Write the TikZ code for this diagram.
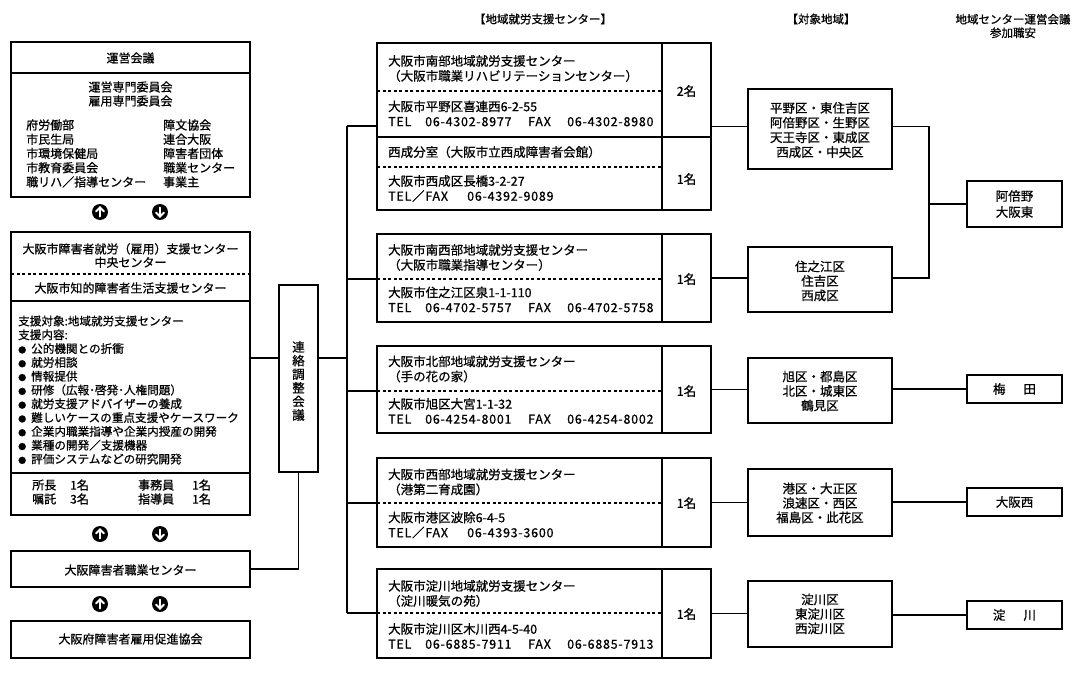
\documentclass[tikz,border=0pt]{standalone}
\usepackage{fontspec}
\setmainfont{Noto Sans CJK JP}[FakeBold=0.7]
\newfontfamily\numf{Noto Sans CJK JP}[FakeBold=0.7, LetterSpace=6]
\usetikzlibrary{arrows.meta}
\newcommand\fs[2]{\fontsize{#1}{#2}\selectfont}
\newcommand\mkbox[5]{\node[bx, anchor=north west, minimum width={(#4)-(#2)}, minimum height={(#5)-(#3)}] (#1) at (#2,#3) {};}
\newcommand\telfax[2]{\makebox[37pt][l]{\numf TEL}\makebox[103pt][l]{\numf #1}\makebox[39pt][l]{\numf FAX}{\numf #2}}
\newcommand\tfx[1]{\makebox[79pt][l]{\numf TEL／FAX}{\numf #1}}
\newcommand\bl{\makebox[13pt][l]{\fs{8}{8}●}}
\newcommand\upc[2]{\node[circ] (#1) at (#2) {};
  \draw[warr] ([yshift=-4.5pt]#1.center) -- ([yshift=4.5pt]#1.center);
  \draw[warr] ([shift={(-4pt,0.5pt)}]#1.center) -- ([yshift=4.5pt]#1.center) -- ([shift={(4pt,0.5pt)}]#1.center);}
\newcommand\dnc[2]{\node[circ] (#1) at (#2) {};
  \draw[warr] ([yshift=4.5pt]#1.center) -- ([yshift=-4.5pt]#1.center);
  \draw[warr] ([shift={(-4pt,-0.5pt)}]#1.center) -- ([yshift=-4.5pt]#1.center) -- ([shift={(4pt,-0.5pt)}]#1.center);}
\begin{document}
\begin{tikzpicture}[x=1pt,y=-1pt,
  bx/.style={draw, line width=1.3pt, rectangle, inner sep=0pt, outer sep=0pt},
  ln/.style={line width=1.2pt},
  dv/.style={line width=1.1pt},
  dsh/.style={line width=1.1pt, dash pattern=on 3pt off 2.5pt},
  t/.style={inner sep=0pt, font=\fs{12.5}{15}, align=left},
  tl/.style={t, font=\fs{12}{14}},
  circ/.style={circle, fill=black, inner sep=0pt, minimum size=16pt},
  warr/.style={white, line width=2pt, line cap=round, line join=miter}]
\useasboundingbox (0,0) rectangle (1076,682);

% ---------- headers ----------
\node[t, font=\fs{11.5}{13}] (h1) at (543,19) {【地域就労支援センター】};
\node[t, font=\fs{11.5}{13}] (h2) at (821,19) {【対象地域】};
\node[t, font=\fs{11.5}{13.5}, align=center] (h3) at (1013,26) {地域センター運営会議\\参加職安};

% ---------- left column ----------
\mkbox{unei}{11}{42}{250}{197}
\draw[dv] (unei.west |- 0,73) -- (unei.east |- 0,73);
\node[tl] (uneit) at (130.5,58) {運営会議};
\node[tl, align=center] (senmon) at (130.5,94) {運営専門委員会\\雇用専門委員会};
\node[tl, font=\fs{12}{14.25}, anchor=west] (orgL) at (26,153.5) {府労働部\\市民生局\\市環境保健局\\市教育委員会\\職リハ／指導センター};
\node[tl, font=\fs{12}{14.25}, anchor=west] (orgR) at (163,153.5) {障文協会\\連合大阪\\障害者団体\\職業センター\\事業主};

\upc{a1u}{100,212}
\dnc{a1d}{160,212}

\mkbox{chuo}{11}{232}{250}{515}
\node[tl, align=center, font=\fs{12}{13.5}] (chuot) at (130.5,255.5) {大阪市障害者就労（雇用）支援センター\\中央センター};
\draw[dsh] (chuo.west |- 0,274) -- (chuo.east |- 0,274);
\node[tl] (chiteki) at (130.5,288) {大阪市知的障害者生活支援センター};
\draw[dv] (chuo.west |- 0,301) -- (chuo.east |- 0,301);
\node[tl, font=\fs{11.6}{13.8}, anchor=west] (naiyo) at (18,390) {支援対象:地域就労支援センター\\支援内容:\\\bl 公的機関との折衝\\\bl 就労相談\\\bl 情報提供\\\bl 研修（広報･啓発･人権問題）\\\bl 就労支援アドバイザーの養成\\\bl 難しいケースの重点支援やケースワーク\\\bl 企業内職業指導や企業内授産の開発\\\bl 業種の開発／支援機器\\\bl 評価システムなどの研究開発};
\draw[dv] (chuo.west |- 0,473) -- (chuo.east |- 0,473);
\node[tl, anchor=west] (st1) at (32,492) {所長\\嘱託};
\node[tl, anchor=west] (st2) at (70,492) {1名\\3名};
\node[tl, anchor=west] (st3) at (138,492) {事務員\\指導員};
\node[tl, anchor=west] (st4) at (192,492) {1名\\1名};

\upc{a2u}{100,534}
\dnc{a2d}{160,534}

\mkbox{shokugyo}{11}{551}{250}{587}
\node[tl] (shokugyot) at (130.5,570) {大阪障害者職業センター};

\upc{a3u}{100,604}
\dnc{a3d}{160,604}

\mkbox{sokushin}{11}{621}{250}{658}
\node[tl] (sokushint) at (130.5,639) {大阪府障害者雇用促進協会};

% ---------- coordination meeting ----------
\mkbox{renraku}{279}{285}{318}{472}
\node[tl, align=center, font=\fs{12.5}{13.6}] (renrakut) at (298.5,381) {連\\絡\\調\\整\\会\\議};

\draw[ln] (chuo.east |- 0,358) -- (renraku.west |- 0,358);
\draw[ln] (renraku.south) |- (shokugyo.east);
\coordinate (bus) at (347,0);
\draw[ln] (renraku.east |- 0,358) -- (bus |- 0,358);
\draw[ln] (bus |- 0,126) -- (bus |- 0,613);

% ---------- local centers ----------
\mkbox{c1}{377}{43}{662}{210}
\mkbox{n1}{662}{43}{711}{210}
\draw[dsh] (c1.west |- 0,91) -- (c1.east |- 0,91);
\draw[dv] (c1.west |- 0,137) -- (n1.east |- 0,137);
\draw[dsh] (c1.west |- 0,167) -- (c1.east |- 0,167);
\node[t, anchor=west] (c1a) at (388,68.5) {大阪市南部地域就労支援センター\\（大阪市職業リハビリテーションセンター）};
\node[t, anchor=west] (c1b) at (388,113.5) {大阪市平野区喜連西6-2-55\\\telfax{06-4302-8977}{06-4302-8980}};
\node[t, anchor=west] (c1c) at (388,152) {西成分室（大阪市立西成障害者会館）};
\node[t, anchor=west] (c1d) at (388,188.5) {大阪市西成区長橋3-2-27\\\tfx{06-4392-9089}};
\node[t] (n1a) at (686.5,91) {2名};
\node[t] (n1b) at (686.5,179) {1名};

\mkbox{c2}{377}{234}{662}{322}
\mkbox{n2}{662}{234}{711}{322}
\draw[dsh] (c2.west |- 0,279) -- (c2.east |- 0,279);
\node[t, anchor=west] (c2a) at (388,257.5) {大阪市南西部地域就労支援センター\\（大阪市職業指導センター）};
\node[t, anchor=west] (c2b) at (388,299.5) {大阪市住之江区泉1-1-110\\\telfax{06-4702-5757}{06-4702-5758}};
\node[t] (n2a) at (686.5,279) {1名};

\mkbox{c3}{377}{346}{662}{433}
\mkbox{n3}{662}{346}{711}{433}
\draw[dsh] (c3.west |- 0,391) -- (c3.east |- 0,391);
\node[t, anchor=west] (c3a) at (388,369) {大阪市北部地域就労支援センター\\（手の花の家）};
\node[t, anchor=west] (c3b) at (388,411) {大阪市旭区大宮1-1-32\\\telfax{06-4254-8001}{06-4254-8002}};
\node[t] (n3a) at (686.5,391) {1名};

\mkbox{c4}{377}{458}{662}{547}
\mkbox{n4}{662}{458}{711}{547}
\draw[dsh] (c4.west |- 0,503) -- (c4.east |- 0,503);
\node[t, anchor=west] (c4a) at (388,482) {大阪市西部地域就労支援センター\\（港第二育成園）};
\node[t, anchor=west] (c4b) at (388,525) {大阪市港区波除6-4-5\\\tfx{06-4393-3600}};
\node[t] (n4a) at (686.5,503) {1名};

\mkbox{c5}{377}{569}{662}{658}
\mkbox{n5}{662}{569}{711}{658}
\draw[dsh] (c5.west |- 0,613) -- (c5.east |- 0,613);
\node[t, anchor=west] (c5a) at (388,593.5) {大阪市淀川地域就労支援センター\\（淀川暖気の苑）};
\node[t, anchor=west] (c5b) at (388,636) {大阪市淀川区木川西4-5-40\\\telfax{06-6885-7911}{06-6885-7913}};
\node[t] (n5a) at (686.5,614) {1名};

% bus branches
\draw[ln] (bus |- 0,126) -- (c1.west |- 0,126);
\draw[ln] (bus |- 0,279) -- (c2.west |- 0,279);
\draw[ln] (bus |- 0,391) -- (c3.west |- 0,391);
\draw[ln] (bus |- 0,503) -- (c4.west |- 0,503);
\draw[ln] (bus |- 0,613) -- (c5.west |- 0,613);

% ---------- target areas ----------
\mkbox{r1}{748}{89}{892}{169}
\node[t, align=center, font=\fs{12.5}{14.7}] (r1t) at (820,130) {平野区・東住吉区\\阿倍野区・生野区\\天王寺区・東成区\\西成区・中央区};
\mkbox{r2}{748}{247}{892}{312}
\node[t, align=center, font=\fs{12.5}{14.5}] (r2t) at (820,281) {住之江区\\住吉区\\西成区};
\mkbox{r3}{748}{358}{892}{423}
\node[t, align=center, font=\fs{12.5}{14.5}] (r3t) at (820,391) {旭区・都島区\\北区・城東区\\鶴見区};
\mkbox{r4}{748}{469}{892}{536}
\node[t, align=center, font=\fs{12.5}{14.5}] (r4t) at (820,503) {港区・大正区\\浪速区・西区\\福島区・此花区};
\mkbox{r5}{748}{581}{892}{647}
\node[t, align=center, font=\fs{12.5}{14.5}] (r5t) at (820,614) {淀川区\\東淀川区\\西淀川区};

\draw[ln] (n1.east) -- (n1.east -| r1.west);
\draw[ln] (n2.east) -- (n2.east -| r2.west);
\draw[ln] (n3.east) -- (n3.east -| r3.west);
\draw[ln] (n4.east) -- (n4.east -| r4.west);
\draw[ln] (n5.east) -- (n5.east -| r5.west);

% ---------- employment offices ----------
\mkbox{abeno}{967}{181}{1062}{227}
\node[t, align=center, font=\fs{12.5}{16}] (abenot) at (1014.5,204) {阿倍野\\大阪東};
\mkbox{umeda}{967}{375}{1062}{403}
\node[t] (umedat) at (1014.5,389) {梅\hspace{18pt}田};
\mkbox{nishi}{967}{488}{1062}{516}
\node[t] (nishit) at (1014.5,502) {大阪西};
\mkbox{yodo}{967}{601}{1062}{629}
\node[t] (yodot) at (1014.5,615) {淀\hspace{18pt}川};

\coordinate (jn) at (929,0);
\draw[ln] (n1.east -| r1.east) -| (jn |- n2.east) -- (n2.east -| r2.east);
\draw[ln] (jn |- abeno.west) -- (abeno.west);
\draw[ln] (umeda.west -| r3.east) -- (umeda.west);
\draw[ln] (nishi.west -| r4.east) -- (nishi.west);
\draw[ln] (yodo.west -| r5.east) -- (yodo.west);
\end{tikzpicture}
\end{document}
